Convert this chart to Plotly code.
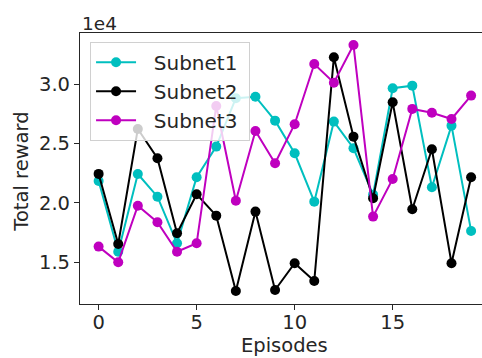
import plotly.graph_objects as go

# Total reward per episode for each subnet
episodes = list(range(20))
subnet1 = [21850, 15890, 22440, 20530, 16600, 22170, 24750, 28830, 28960, 26940,
           24190, 20110, 26860, 24610, 20700, 29670, 29890, 21320, 26520, 17640]
subnet2 = [22450, 16540, 26240, 23770, 17450, 20730, 18930, 12580, 19270, 12660,
           14920, 13420, 32290, 25590, 20400, 28490, 19470, 24530, 14920, 22170]
subnet3 = [16320, 15000, 19770, 18370, 15890, 16600, 28180, 20190, 26070, 23350,
           26640, 31720, 30140, 33320, 18850, 22020, 27930, 27610, 27080, 29050]

series_names = ["Subnet1", "Subnet2", "Subnet3"]
series_colors = ["#00BFBF", "#000000", "#BF00BF"]

y_tickvals = [15000, 20000, 25000, 30000]
y_ticktext = ["1.5", "2.0", "2.5", "3.0"]
x_tickvals = [0, 5, 10, 15]

FONT = "DejaVu Sans, sans-serif"
TICK_FS = 19.5
LABEL_FS = 19.5
NBSP = "\u00a0"

fig = go.Figure()
for name, vals, col in zip(series_names, [subnet1, subnet2, subnet3], series_colors):
    fig.add_trace(go.Scatter(
        x=episodes, y=vals, name=NBSP * 2 + name + NBSP, mode="lines+markers",
        line=dict(color=col, width=2),
        marker=dict(color=col, size=10, line=dict(width=0)),
    ))

fig.update_layout(
    width=482, height=358,
    margin=dict(l=80, r=0, t=33, b=54),
    paper_bgcolor="white", plot_bgcolor="white",
    font=dict(family=FONT, size=TICK_FS, color="#262626"),
    legend=dict(
        x=0.025, y=0.968, xanchor="left", yanchor="top",
        bgcolor="rgba(255,255,255,0.8)", bordercolor="#d0d0d0", borderwidth=1,
        font=dict(size=20, color="#262626"),
        itemwidth=40,
    ),
    xaxis=dict(
        range=[-0.95, 19.556], tickvals=x_tickvals,
        showline=True, linecolor="#262626", linewidth=1.2, mirror=True,
        ticks="outside", ticklen=5, tickcolor="#262626", tickwidth=1,
        ticklabelstandoff=-5,
        showgrid=False, zeroline=False,
    ),
    yaxis=dict(
        range=[11480, 34330], tickvals=y_tickvals, ticktext=y_ticktext,
        showline=True, linecolor="#262626", linewidth=1.2, mirror=False,
        ticks="outside", ticklen=5, tickcolor="#262626", tickwidth=1,
        showgrid=False, zeroline=False,
    ),
    annotations=[
        dict(text="1e4", x=0, y=1, xref="paper", yref="paper",
             xanchor="left", yanchor="bottom", showarrow=False, yshift=-3,
             font=dict(size=18.5, family=FONT, color="#262626")),
        dict(text="Episodes", x=0.5075, y=-0.1513, xref="paper", yref="paper",
             xanchor="center", yanchor="middle", showarrow=False,
             font=dict(size=LABEL_FS, family=FONT, color="#262626")),
        dict(text="Total reward", x=-0.1443, y=0.4882, xref="paper", yref="paper",
             xanchor="center", yanchor="middle", showarrow=False, textangle=-90,
             font=dict(size=LABEL_FS, family=FONT, color="#262626")),
    ],
)

fig.write_html("out.html")
